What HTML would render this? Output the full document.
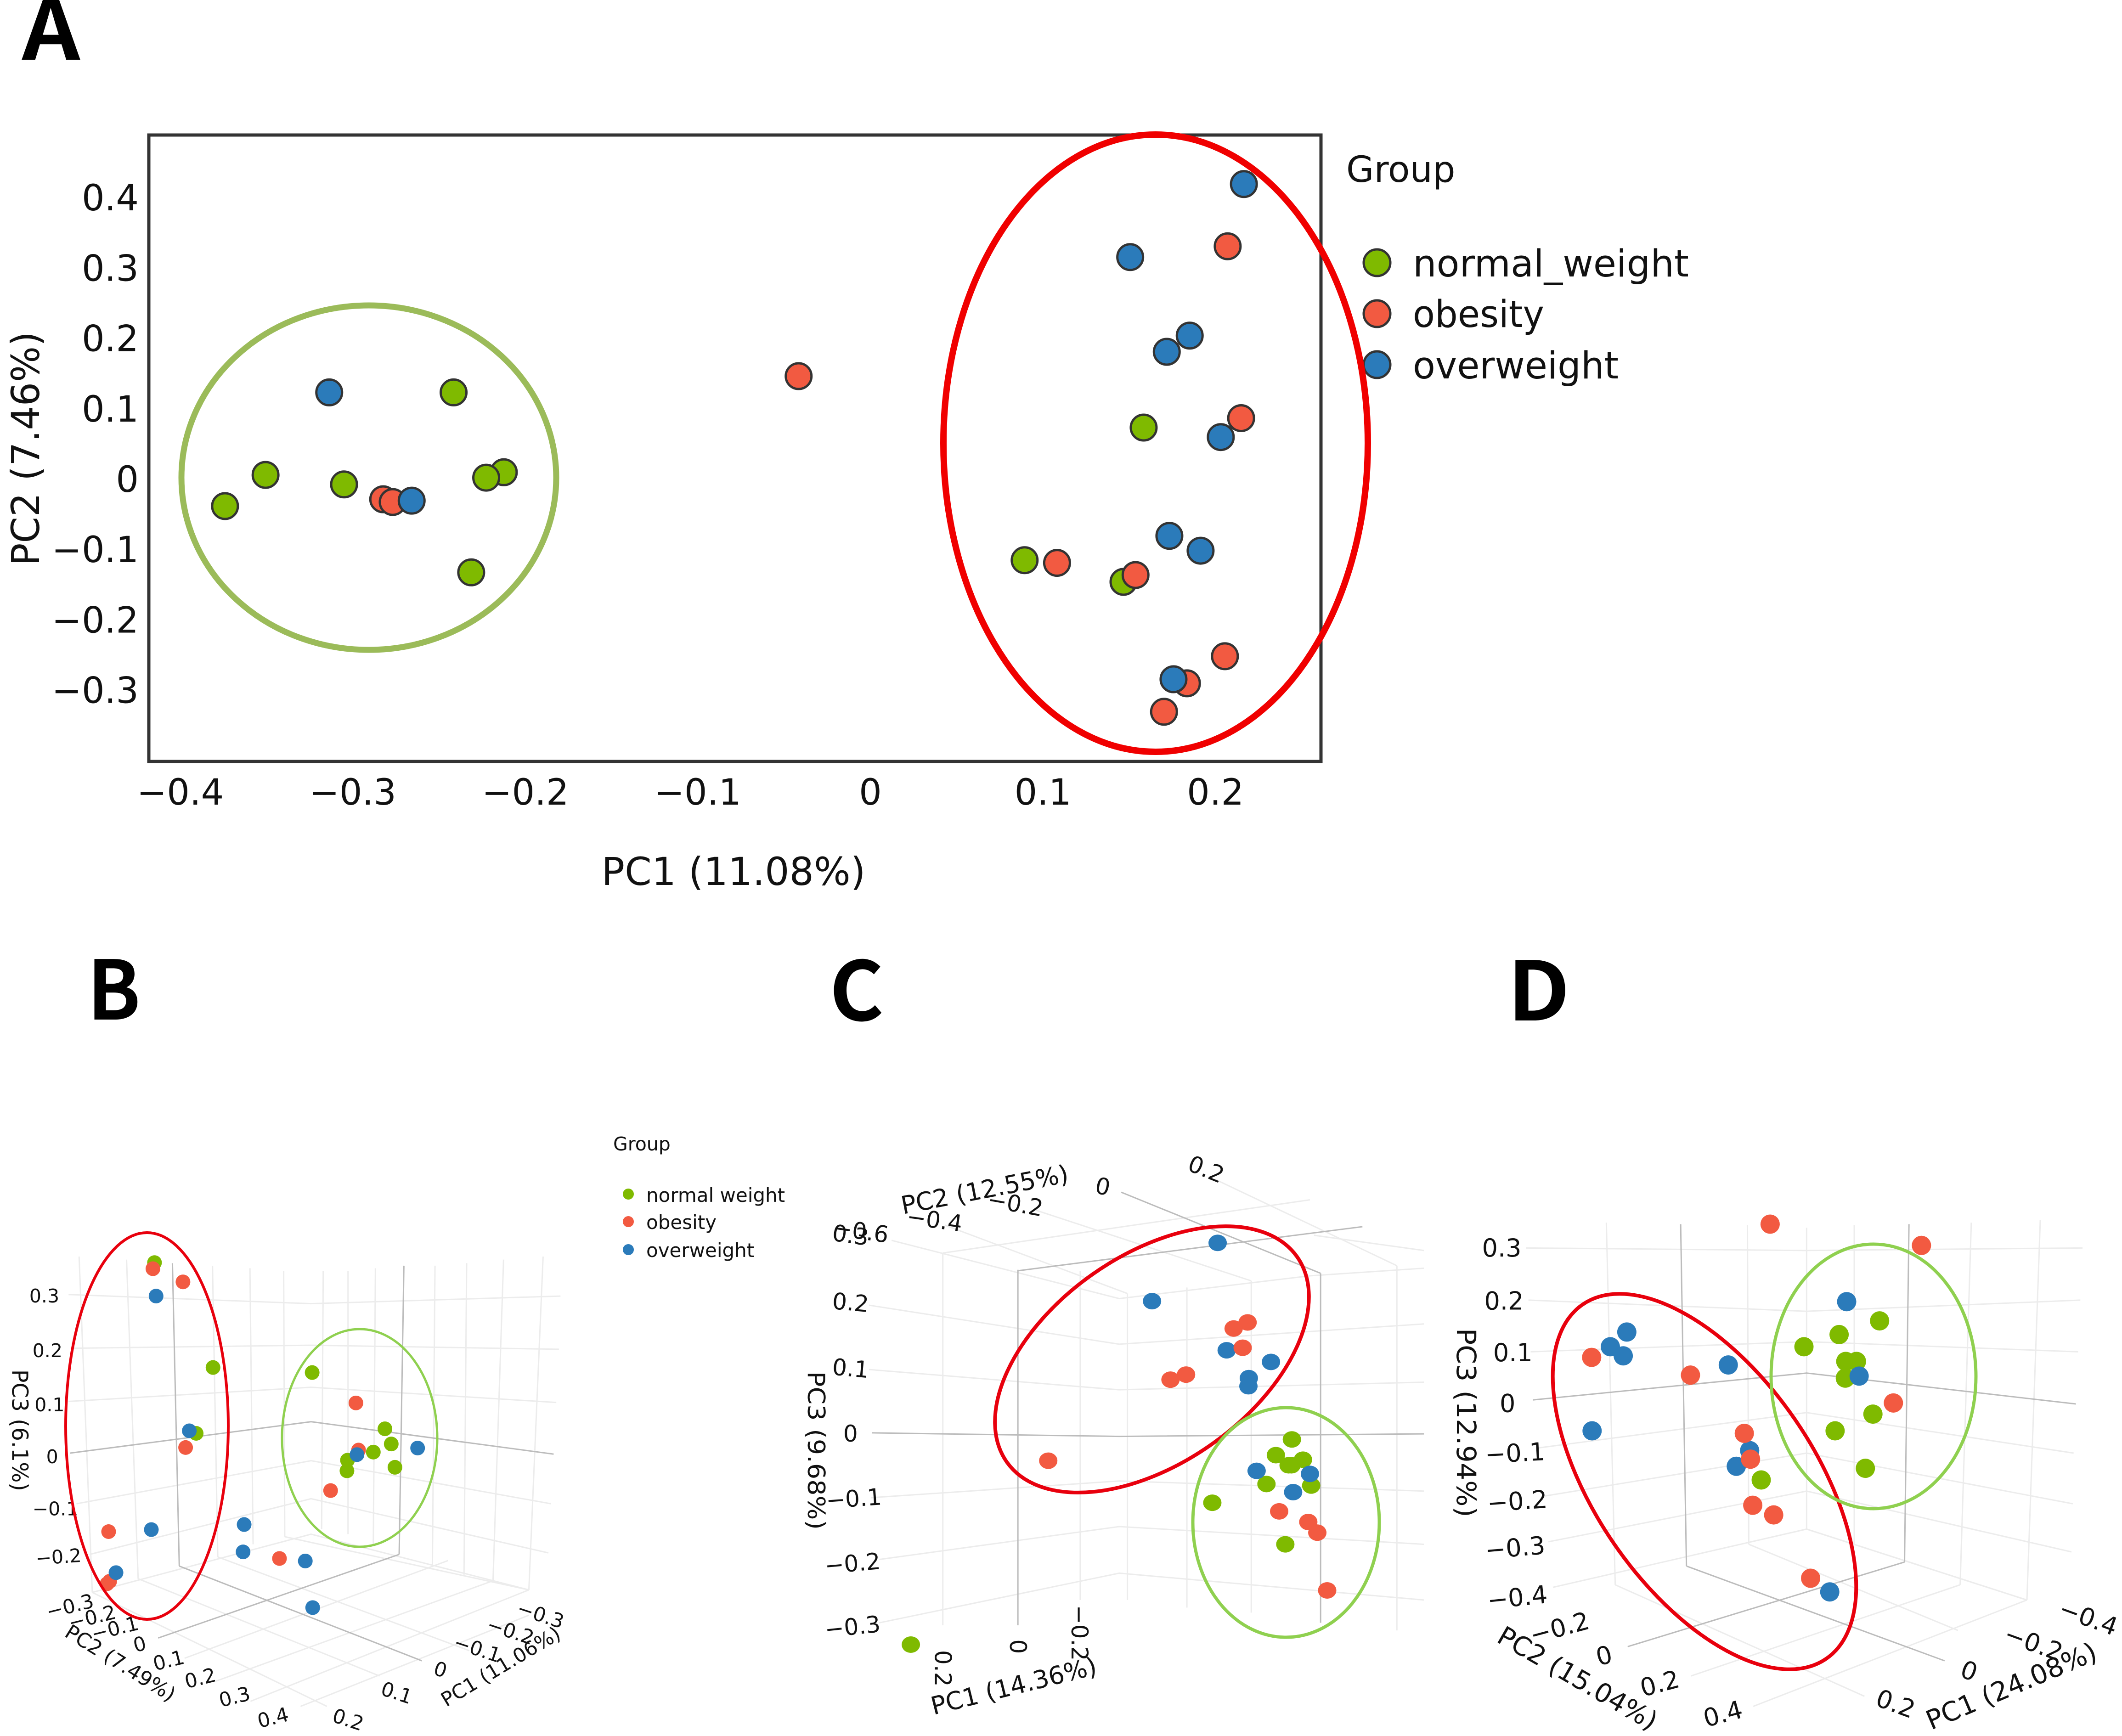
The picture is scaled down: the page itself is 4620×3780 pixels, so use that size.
<!DOCTYPE html>
<html lang="en">
<head>
<meta charset="utf-8">
<title>PCA plots</title>
<style>
html,body{margin:0;padding:0;background:#fff;}
svg{display:block;}
text{font-family:"DejaVu Sans","Liberation Sans",sans-serif;fill:#111;}
.panel-letter{font-family:"Noto Sans CJK JP","Liberation Sans",sans-serif;font-weight:700;font-size:178px;fill:#000;}
.grid polyline{fill:none;stroke:#ececec;stroke-width:3;vector-effect:non-scaling-stroke;}
.grid polyline.ax{stroke:#bcbcbc;stroke-width:3;}
</style>
</head>
<body>
<svg id="fig" xmlns="http://www.w3.org/2000/svg" width="4620" height="3780" viewBox="0 0 4620 3780">
<rect x="0" y="0" width="4620" height="3780" fill="#fff"/>

<text class="panel-letter" x="48" y="130" textLength="126" lengthAdjust="spacingAndGlyphs">A</text>
<text class="panel-letter" x="190" y="2220" textLength="116" lengthAdjust="spacingAndGlyphs">B</text>
<text class="panel-letter" x="1806" y="2222" textLength="118" lengthAdjust="spacingAndGlyphs">C</text>
<text class="panel-letter" x="3282" y="2222" textLength="136" lengthAdjust="spacingAndGlyphs">D</text>

<g id="panelA">
  <rect x="324" y="294" width="2552" height="1364" fill="none" stroke="#333" stroke-width="7"/>
  <text x="1597" y="1927" text-anchor="middle" font-size="84" textLength="575" lengthAdjust="spacingAndGlyphs">PC1 (11.08%)</text>
  <text transform="translate(85,977) rotate(-90)" text-anchor="middle" font-size="84" textLength="510" lengthAdjust="spacingAndGlyphs">PC2 (7.46%)</text>
  <text x="2931" y="396" font-size="78">Group</text>
  <circle cx="2998" cy="572" r="29" fill="#7fba00" stroke="#333" stroke-width="5"/>
  <circle cx="2998" cy="683" r="29" fill="#f25a41" stroke="#333" stroke-width="5"/>
  <circle cx="2998" cy="794" r="29" fill="#2b7bba" stroke="#333" stroke-width="5"/>
  <text x="3076" y="602" font-size="81" textLength="601" lengthAdjust="spacingAndGlyphs">normal_weight</text>
  <text x="3076" y="712" font-size="81" textLength="286" lengthAdjust="spacingAndGlyphs">obesity</text>
  <text x="3076" y="824" font-size="81" textLength="448" lengthAdjust="spacingAndGlyphs">overweight</text>
</g>

<g id="panelB">
  <g class="grid" transform="translate(0,2050) scale(1.148,1.103)">
    <polyline points="150,622 175,1285"/><polyline points="240,628 262,1258"/><polyline points="403,640 413,1215"/><polyline points="474,645 480,1190"/><polyline points="538,650 540,1175"/><polyline points="613,650 610,1160"/><polyline points="660,650 660,1170"/><polyline points="712,645 708,1190"/><polyline points="825,640 820,1235"/><polyline points="885,635 880,1250"/><polyline points="955,628 935,1262"/><polyline points="1030,622 1003,1280"/>
    <polyline points="130,697 590,715 1063,700"/><polyline points="135,803 590,797 1060,805"/><polyline points="130,908 590,880 1055,910"/><polyline points="145,1110 590,1025 1045,1110"/><polyline points="170,1210 590,1100 1040,1207"/>
    <polyline points="175,1285 590,1170 1003,1280"/>
    <polyline points="262,1258 720,1450"/><polyline points="413,1215 890,1400"/><polyline points="540,1175 1003,1280"/><polyline points="175,1285 620,1510"/>
    <polyline points="350,1415 850,1222"/><polyline points="410,1460 935,1262"/><polyline points="475,1500 1003,1280"/><polyline points="570,1510 1003,1330"/>
    <polyline class="ax" points="327,635 340,1233"/><polyline class="ax" points="766,640 757,1210"/>
    <polyline class="ax" points="133,1010 590,948 1050,1012"/>
    <polyline class="ax" points="340,1233 800,1420"/><polyline class="ax" points="757,1210 300,1375"/>
  </g>
  <text x="1335" y="2505" font-size="41">Group</text>
  <circle cx="1368" cy="2600" r="12" fill="#7fba00"/>
  <circle cx="1368" cy="2660" r="12" fill="#f25a41"/>
  <circle cx="1368" cy="2721" r="12" fill="#2b7bba"/>
  <text x="1407" y="2617" font-size="42">normal weight</text>
  <text x="1407" y="2676" font-size="42">obesity</text>
  <text x="1407" y="2737" font-size="42">overweight</text>
</g>

<g id="panelC">
  <g class="grid" transform="translate(1700,2050) scale(0.893,1.103)">
    <polyline points="395,615 395,1350"/><polyline points="730,650 730,1300"/><polyline points="845,695 845,1300"/><polyline points="990,683 990,1315"/><polyline points="1147,670 1147,1325"/><polyline points="1502,640 1502,1360"/>
    <polyline points="270,590 825,705 1290,660 1568,645"/><polyline points="215,718 825,795 1568,755"/><polyline points="215,845 825,885 1568,870"/><polyline points="220,1098 825,1065 1568,1085"/><polyline points="240,1220 825,1155 1568,1190"/><polyline points="240,1345 825,1247 1568,1300"/>
    <polyline points="395,615 860,560 1290,510"/><polyline points="578,650 1060,600"/><polyline points="1060,470 1502,640"/><polyline points="1300,580 1568,610"/><polyline points="400,560 845,695"/><polyline points="620,530 1147,670"/>
    <polyline class="ax" points="578,648 578,1350"/><polyline class="ax" points="1316,655 1316,1345"/>
    <polyline class="ax" points="222,970 825,977 1568,972"/>
    <polyline class="ax" points="578,650 1418,563"/><polyline class="ax" points="830,495 1316,655"/>
  </g>
</g>

<g id="panelD">
  <g class="grid" transform="translate(3100,2050) scale(0.969,1.103)">
    <polyline points="410,555 430,1270"/><polyline points="727,560 730,1190"/><polyline points="860,565 860,1160"/><polyline points="967,560 967,1190"/><polyline points="1230,555 1205,1270"/><polyline points="1385,550 1355,1300"/>
    <polyline points="230,605 860,610 1480,605"/><polyline points="235,708 860,730 1475,708"/><polyline points="240,810 860,790 1470,810"/><polyline points="255,1000 860,930 1460,1010"/><polyline points="270,1095 860,1010 1458,1110"/><polyline points="280,1185 860,1085 1455,1205"/><polyline points="290,1275 860,1160 1355,1300"/>
    <polyline points="430,1270 990,1490"/><polyline points="730,1190 1200,1360"/><polyline points="860,1160 1355,1300"/>
    <polyline points="600,1450 1205,1270"/><polyline points="740,1510 1355,1300"/>
    <polyline class="ax" points="577,558 590,1233"/><polyline class="ax" points="1090,558 1080,1225"/>
    <polyline class="ax" points="245,905 860,852 1465,913"/>
    <polyline class="ax" points="590,1233 1170,1420"/><polyline class="ax" points="1080,1225 458,1392"/>
  </g>
</g>

<g id="labels3d"></g>
<g id="marks"></g>

<g fill="none">
  <ellipse cx="803" cy="1040" rx="408" ry="375" stroke="#9bbb59" stroke-width="13"/>
  <ellipse cx="2516" cy="965" rx="462" ry="672" stroke="#f00000" stroke-width="14"/>
  <ellipse cx="320" cy="3105" rx="177" ry="421" stroke="#e8000d" stroke-width="6"/>
  <ellipse cx="783" cy="3131" rx="169" ry="237" stroke="#8fd04f" stroke-width="5"/>
  <ellipse transform="translate(2508,2960) rotate(-35.3)" rx="387" ry="226" stroke="#e8000d" stroke-width="8"/>
  <ellipse cx="2800" cy="3315" rx="203" ry="250" stroke="#8fd04f" stroke-width="7"/>
  <ellipse transform="translate(3711,3226) rotate(55.5)" rx="468" ry="239" stroke="#e8000d" stroke-width="8"/>
  <ellipse cx="4079" cy="2997" rx="223" ry="288" stroke="#8fd04f" stroke-width="7"/>
</g>
</svg>

<script>
// ---- Panel A data (PC1, PC2) ----
const aNormalX = [-0.3506,-0.3741,-0.3051,-0.2416,-0.2125,-0.2227,-0.2314,0.1584,0.0894,0.1467];
const aNormalY = [0.0058,-0.0385,-0.0077,0.1231,0.0096,0.0019,-0.1327,0.0731,-0.1154,-0.1462];
const aObesityX = [-0.2824,-0.2769,-0.0416,0.2071,0.2149,0.1082,0.1537,0.2055,0.1835,0.1702];
const aObesityY = [-0.0288,-0.0327,0.1462,0.3308,0.0865,-0.1192,-0.1365,-0.2519,-0.2904,-0.3308];
const aOverweightX = [-0.3137,-0.2659,0.2165,0.1506,0.1851,0.1718,0.2031,0.1733,0.1914,0.1757];
const aOverweightY = [0.1231,-0.0308,0.4192,0.3154,0.2038,0.1808,0.0596,-0.0808,-0.1019,-0.2846];
const aXTicks = [-0.4,-0.3,-0.2,-0.1,0,0.1,0.2];
const aYTicks = [0.4,0.3,0.2,0.1,0,-0.1,-0.2,-0.3];

// ---- Panel B data (projected horizontal u, projected vertical v) ----
const bNormalU = [-0.297,-0.186,-0.218,0.002,0.140,0.152,0.118,0.069,0.068,0.159];
const bNormalV = [0.381,0.174,0.044,0.164,0.053,0.023,0.007,-0.009,-0.030,-0.023];
const bObesityU = [-0.300,-0.243,-0.238,0.085,0.090,0.037,-0.384,-0.060,-0.387,-0.382];
const bObesityV = [0.369,0.343,0.016,0.104,0.011,-0.069,-0.150,-0.203,-0.253,-0.248];
const bOverweightU = [-0.294,-0.231,0.087,0.202,-0.303,-0.127,-0.129,-0.011,-0.370,0.003];
const bOverweightV = [0.315,0.049,0.002,0.015,-0.146,-0.136,-0.190,-0.208,-0.231,-0.300];

// ---- Panel C data ----
const cNormalU = [0.421,0.382,0.448,0.420,0.413,0.359,0.468,0.227,0.405,-0.508];
const cNormalV = [-0.013,-0.044,-0.053,-0.064,-0.064,-0.101,-0.104,-0.138,-0.220,-0.418];
const cObesityU = [0.313,0.279,0.301,0.163,0.125,-0.173,0.390,0.461,0.483,0.507];
const cObesityV = [0.218,0.206,0.168,0.115,0.105,-0.055,-0.155,-0.176,-0.197,-0.311];
const cOverweightU = [0.240,0.080,0.262,0.370,0.316,0.315,0.335,0.465,0.424];
const cOverweightV = [0.375,0.260,0.163,0.140,0.108,0.092,-0.075,-0.081,-0.117];

// ---- Panel D data ----
const dNormalU = [0.164,0.073,-0.006,0.088,0.112,0.087,0.149,0.064,0.132,-0.102];
const dNormalV = [0.163,0.136,0.112,0.083,0.083,0.050,-0.021,-0.054,-0.128,-0.151];
const dObesityU = [-0.082,0.258,-0.483,-0.261,0.195,-0.140,-0.126,-0.121,-0.074,0.009];
const dObesityV = [0.354,0.312,0.091,0.056,0.001,-0.059,-0.110,-0.201,-0.220,-0.345];
const dOverweightU = [0.090,-0.404,-0.441,-0.412,-0.176,0.118,-0.482,-0.128,-0.158,0.052];
const dOverweightV = [0.201,0.141,0.112,0.094,0.076,0.054,-0.054,-0.093,-0.124,-0.372];

const GREEN = '#7fba00', RED = '#f25a41', BLUE = '#2b7bba';
const SVGNS = 'http://www.w3.org/2000/svg';
const marks = document.getElementById('marks');
const labels3d = document.getElementById('labels3d');
const panelA = document.getElementById('panelA');

// Axis functions
function axX(v){ return 1895 + v * 3756; }
function axY(v){ return 1043 - v * 1532; }
const projB = {sx:1.148, ox:0, sy:1.103, oy:2050, cu:590, cv:1015};
const projC = {sx:0.893, ox:1700, sy:1.103, oy:2050, cu:825, cv:970};
const projD = {sx:0.969, ox:3100, sy:1.103, oy:2050, cu:860, cv:912};
function px(p,u){ return p.ox + (p.cu + u * 1000) * p.sx; }
function py(p,v){ return p.oy + (p.cv - v * 1000) * p.sy; }

function fmt(v){
  if (v === 0) return '0';
  return (v < 0 ? '\u2212' : '') + Math.abs(v).toFixed(1);
}

// Panel A ticks
aXTicks.forEach(function(t){
  const el = document.createElementNS(SVGNS,'text');
  
  
  el.setAttribute('x', axX(t));
  el.setAttribute('y', 1752);
  el.setAttribute('text-anchor', 'middle');
  el.setAttribute('font-size', '78');
  el.textContent = fmt(t);
  panelA.appendChild(el);
});
aYTicks.forEach(function(t){
  const el = document.createElementNS(SVGNS,'text');
  
  
  el.setAttribute('x', 302);
  el.setAttribute('y', axY(t) + 28);
  el.setAttribute('text-anchor', 'end');
  el.setAttribute('font-size', '78');
  el.textContent = fmt(t);
  panelA.appendChild(el);
});

// Panel A points
function drawA(xs, ys, color, name){
  xs.forEach(function(x,i){
    const c = document.createElementNS(SVGNS,'circle');
    
    
    c.setAttribute('cx', axX(x));
    c.setAttribute('cy', axY(ys[i]));
    c.setAttribute('r', 28);
    c.setAttribute('fill', color);
    c.setAttribute('stroke', '#333');
    c.setAttribute('stroke-width', 5);
    marks.appendChild(c);
  });
}
drawA(aNormalX, aNormalY, GREEN, 'point-a-normal-weight');
drawA(aObesityX, aObesityY, RED, 'point-a-obesity');
drawA(aOverweightX, aOverweightY, BLUE, 'point-a-overweight');

// 3D panel points
function draw3d(p, us, vs, color, name, rx, ry){
  us.forEach(function(u,i){
    const c = document.createElementNS(SVGNS,'ellipse');
    
    
    c.setAttribute('cx', px(p,u));
    c.setAttribute('cy', py(p,vs[i]));
    c.setAttribute('rx', rx);
    c.setAttribute('ry', ry);
    c.setAttribute('fill', color);
    marks.appendChild(c);
  });
}
draw3d(projB, bNormalU, bNormalV, GREEN, 'point-b-normal-weight', 16, 16);
draw3d(projB, bObesityU, bObesityV, RED, 'point-b-obesity', 16, 16);
draw3d(projB, bOverweightU, bOverweightV, BLUE, 'point-b-overweight', 16, 16);
draw3d(projC, cNormalU, cNormalV, GREEN, 'point-c-normal-weight', 20, 18);
draw3d(projC, cOverweightU, cOverweightV, BLUE, 'point-c-overweight', 20, 18);
draw3d(projC, cObesityU, cObesityV, RED, 'point-c-obesity', 20, 18);
draw3d(projD, dNormalU, dNormalV, GREEN, 'point-d-normal-weight', 21, 21);
draw3d(projD, dOverweightU, dOverweightV, BLUE, 'point-d-overweight', 21, 21);
draw3d(projD, dObesityU, dObesityV, RED, 'point-d-obesity', 21, 21);

// 3D labels: helper places text in each panel's local layout
function lbl(p, zx, zy, rot, str, size, name, len){
  const el = document.createElementNS(SVGNS,'text');
  
  
  const x = p.ox + zx * p.sx, y = p.oy + zy * p.sy;
  el.setAttribute('transform', 'translate(' + x + ',' + y + ') rotate(' + rot + ')');
  el.setAttribute('text-anchor', 'middle');
  el.setAttribute('dominant-baseline', 'central');
  el.setAttribute('font-size', size);
  if (len) {
    el.setAttribute('textLength', len);
    el.setAttribute('lengthAdjust', 'spacingAndGlyphs');
  }
  el.textContent = str;
  labels3d.appendChild(el);
}
const M = '\u2212';
// Panel B
lbl(projB,84,700,0,'0.3',41,'pc3-tick');
lbl(projB,90,808,0,'0.2',41,'pc3-tick');
lbl(projB,94,915,0,'0.1',41,'pc3-tick');
lbl(projB,99,1017,0,'0',41,'pc3-tick');
lbl(projB,105,1120,0,M+'0.1',41,'pc3-tick');
lbl(projB,111,1215,-4,M+'0.2',41,'pc3-tick');
lbl(projB,133,1313,-14,M+'0.3',43,'pc2-tick');
lbl(projB,175,1335,-14,M+'0.2',43,'pc2-tick');
lbl(projB,218,1357,-14,M+'0.1',43,'pc2-tick');
lbl(projB,265,1388,-14,'0',43,'pc2-tick');
lbl(projB,320,1420,-14,'0.1',43,'pc2-tick');
lbl(projB,380,1455,-14,'0.2',43,'pc2-tick');
lbl(projB,445,1492,-14,'0.3',43,'pc2-tick');
lbl(projB,518,1533,-14,'0.4',43,'pc2-tick');
lbl(projB,1025,1330,18,M+'0.3',43,'pc1-tick');
lbl(projB,968,1362,18,M+'0.2',43,'pc1-tick');
lbl(projB,905,1397,18,M+'0.1',43,'pc1-tick');
lbl(projB,835,1438,18,'0',43,'pc1-tick');
lbl(projB,752,1484,18,'0.1',43,'pc1-tick');
lbl(projB,660,1537,18,'0.2',43,'pc1-tick');
lbl(projB,37,965,90,'PC3 (6.1%)',48,'z-axis-title',265);
lbl(projB,228,1425,32,'PC2 (7.49%)',44,'y-axis-title');
lbl(projB,950,1432,-31,'PC1 (11.06%)',43,'x-axis-title');
// Panel C
lbl(projC,170,580,8,'0.3',50,'pc3-tick');
lbl(projC,170,713,5,'0.2',50,'pc3-tick');
lbl(projC,170,843,5,'0.1',50,'pc3-tick');
lbl(projC,170,972,0,'0',50,'pc3-tick');
lbl(projC,178,1100,-4,M+'0.1',50,'pc3-tick');
lbl(projC,175,1228,-5,M+'0.2',50,'pc3-tick');
lbl(projC,175,1353,-6,M+'0.3',50,'pc3-tick');
lbl(projC,195,572,8,M+'0.6',50,'pc2-tick');
lbl(projC,375,550,8,M+'0.4',50,'pc2-tick');
lbl(projC,572,518,10,M+'0.2',50,'pc2-tick');
lbl(projC,785,484,12,'0',50,'pc2-tick');
lbl(projC,1037,450,22,'0.2',50,'pc2-tick');
lbl(projC,395,1435,90,'0.2',50,'pc1-tick');
lbl(projC,578,1392,90,'0',50,'pc1-tick');
lbl(projC,728,1365,90,M+'0.2',50,'pc1-tick');
lbl(projC,85,1005,90,'PC3 (9.68%)',52,'z-axis-title',345);
lbl(projC,497,490,-11,'PC2 (12.55%)',54,'y-axis-title');
lbl(projC,568,1470,-14,'PC1 (14.36%)',54,'x-axis-title');
// Panel D
lbl(projD,175,605,0,'0.3',54,'pc3-tick');
lbl(projD,180,710,0,'0.2',54,'pc3-tick');
lbl(projD,200,812,0,'0.1',54,'pc3-tick');
lbl(projD,188,912,0,'0',54,'pc3-tick');
lbl(projD,205,1010,-3,M+'0.1',54,'pc3-tick');
lbl(projD,210,1105,-4,M+'0.2',54,'pc3-tick');
lbl(projD,205,1197,-5,M+'0.3',54,'pc3-tick');
lbl(projD,210,1295,-6,M+'0.4',54,'pc3-tick');
lbl(projD,305,1355,-15,M+'0.2',54,'pc2-tick');
lbl(projD,405,1410,-15,'0',54,'pc2-tick');
lbl(projD,530,1465,-15,'0.2',54,'pc2-tick');
lbl(projD,672,1525,-15,'0.4',54,'pc2-tick');
lbl(projD,1493,1335,20,M+'0.4',54,'pc1-tick');
lbl(projD,1370,1385,20,M+'0.2',54,'pc1-tick');
lbl(projD,1225,1440,20,'0',54,'pc1-tick');
lbl(projD,1060,1505,20,'0.2',54,'pc1-tick');
lbl(projD,95,950,90,'PC3 (12.94%)',58,'z-axis-title',412);
lbl(projD,345,1455,30,'PC2 (15.04%)',57,'y-axis-title');
lbl(projD,1320,1470,-23,'PC1 (24.08%)',58,'x-axis-title');
</script>
</body>
</html>
